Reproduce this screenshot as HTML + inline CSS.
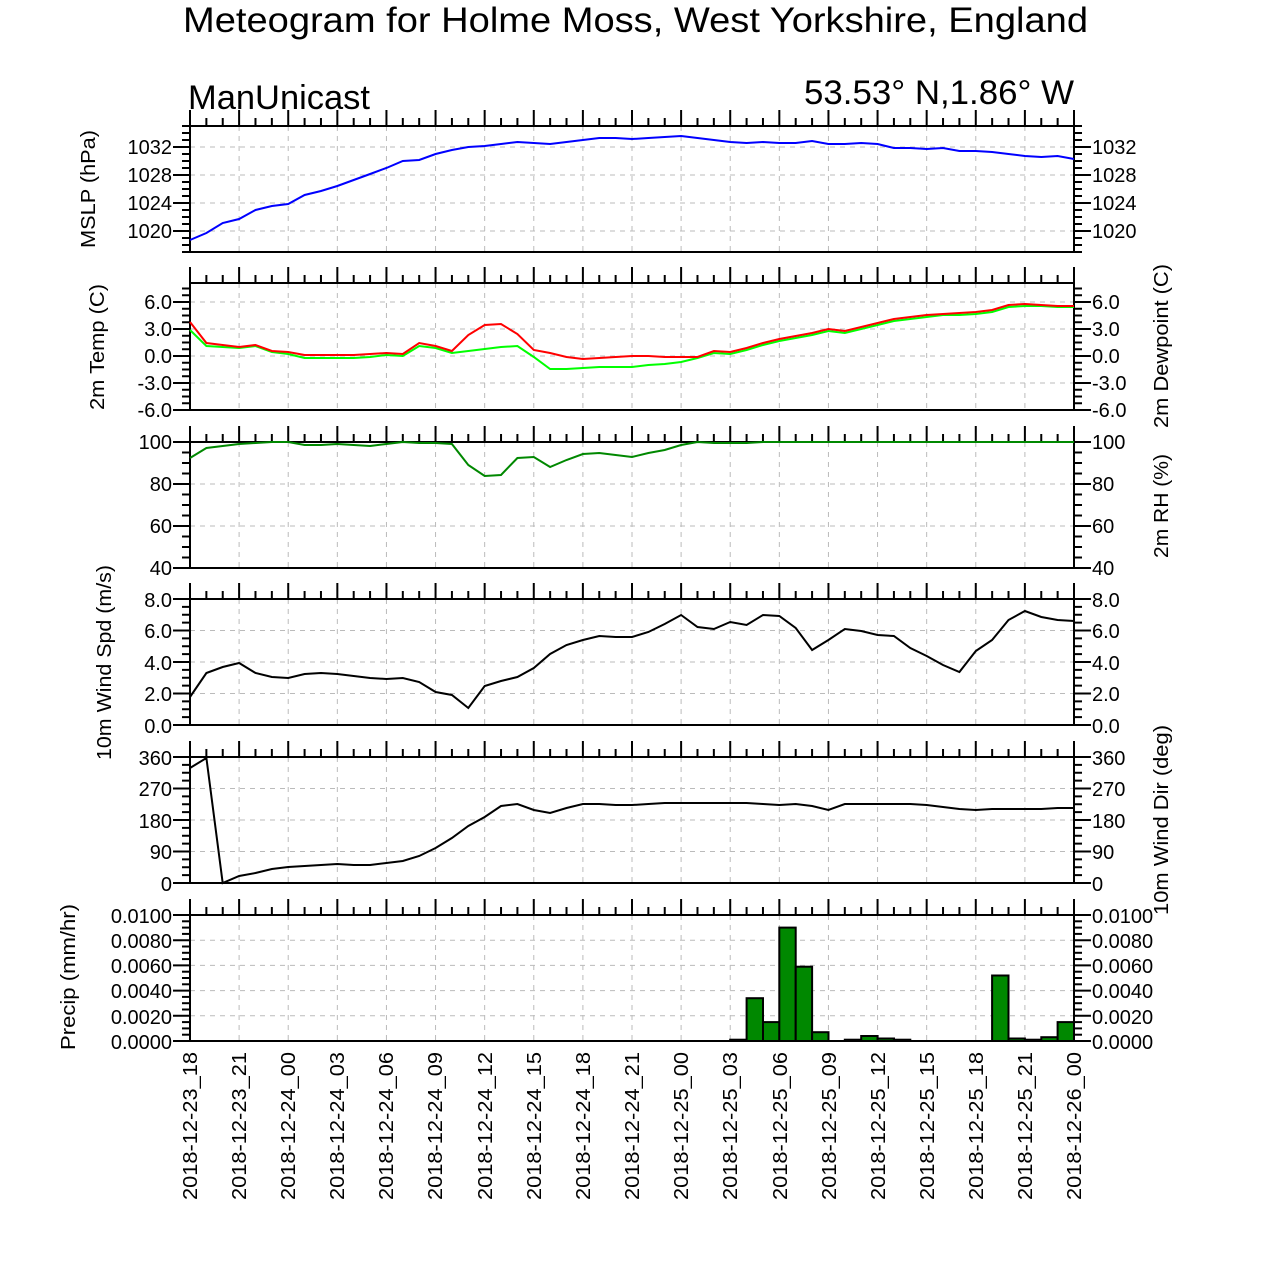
<!DOCTYPE html>
<html><head><meta charset="utf-8"><style>
html,body{margin:0;padding:0;background:#fff}
svg text{font-family:"Liberation Sans",Arial,sans-serif;fill:#000}
</style></head><body>
<svg id="s" width="1261" height="1263" viewBox="0 0 1261 1263" xmlns="http://www.w3.org/2000/svg">
<g id="g"></g>
<text x="183" y="32" font-size="35" textLength="905" lengthAdjust="spacingAndGlyphs">Meteogram for Holme Moss, West Yorkshire, England</text>
<text x="188" y="109" font-size="34" textLength="182" lengthAdjust="spacingAndGlyphs">ManUnicast</text>
<text x="804" y="104" font-size="34" textLength="270" lengthAdjust="spacingAndGlyphs">53.53° N,1.86° W</text>
<g font-size="20">
<text x="172" y="154" text-anchor="end">1032</text><text x="172" y="182" text-anchor="end">1028</text><text x="172" y="210" text-anchor="end">1024</text><text x="172" y="238" text-anchor="end">1020</text>
<text x="1092" y="154">1032</text><text x="1092" y="182">1028</text><text x="1092" y="210">1024</text><text x="1092" y="238">1020</text>
<text x="172" y="309" text-anchor="end">6.0</text><text x="172" y="336" text-anchor="end">3.0</text><text x="172" y="363" text-anchor="end">0.0</text><text x="172" y="390" text-anchor="end">-3.0</text><text x="172" y="417" text-anchor="end">-6.0</text>
<text x="1092" y="309">6.0</text><text x="1092" y="336">3.0</text><text x="1092" y="363">0.0</text><text x="1092" y="390">-3.0</text><text x="1092" y="417">-6.0</text>
<text x="172" y="449" text-anchor="end">100</text><text x="172" y="491" text-anchor="end">80</text><text x="172" y="533" text-anchor="end">60</text><text x="172" y="575" text-anchor="end">40</text>
<text x="1092" y="449">100</text><text x="1092" y="491">80</text><text x="1092" y="533">60</text><text x="1092" y="575">40</text>
<text x="172" y="607" text-anchor="end">8.0</text><text x="172" y="638" text-anchor="end">6.0</text><text x="172" y="670" text-anchor="end">4.0</text><text x="172" y="701" text-anchor="end">2.0</text><text x="172" y="733" text-anchor="end">0.0</text>
<text x="1092" y="607">8.0</text><text x="1092" y="638">6.0</text><text x="1092" y="670">4.0</text><text x="1092" y="701">2.0</text><text x="1092" y="733">0.0</text>
<text x="172" y="765" text-anchor="end">360</text><text x="172" y="796" text-anchor="end">270</text><text x="172" y="828" text-anchor="end">180</text><text x="172" y="859" text-anchor="end">90</text><text x="172" y="891" text-anchor="end">0</text>
<text x="1092" y="765">360</text><text x="1092" y="796">270</text><text x="1092" y="828">180</text><text x="1092" y="859">90</text><text x="1092" y="891">0</text>
<text x="172" y="923" text-anchor="end">0.0100</text><text x="172" y="948" text-anchor="end">0.0080</text><text x="172" y="973" text-anchor="end">0.0060</text><text x="172" y="998" text-anchor="end">0.0040</text><text x="172" y="1024" text-anchor="end">0.0020</text><text x="172" y="1049" text-anchor="end">0.0000</text>
<text x="1092" y="923">0.0100</text><text x="1092" y="948">0.0080</text><text x="1092" y="973">0.0060</text><text x="1092" y="998">0.0040</text><text x="1092" y="1024">0.0020</text><text x="1092" y="1049">0.0000</text>
<text transform="translate(95,248) rotate(-90)" textLength="118" lengthAdjust="spacingAndGlyphs">MSLP (hPa)</text>
<text transform="translate(104,410) rotate(-90)" textLength="126" lengthAdjust="spacingAndGlyphs">2m Temp (C)</text>
<text transform="translate(111,760) rotate(-90)" textLength="195" lengthAdjust="spacingAndGlyphs">10m Wind Spd (m/s)</text>
<text transform="translate(75,1050) rotate(-90)" textLength="146" lengthAdjust="spacingAndGlyphs">Precip (mm/hr)</text>
<text transform="translate(1168,428) rotate(-90)" textLength="164" lengthAdjust="spacingAndGlyphs">2m Dewpoint (C)</text>
<text transform="translate(1168,558) rotate(-90)" textLength="104" lengthAdjust="spacingAndGlyphs">2m RH (%)</text>
<text transform="translate(1168,915) rotate(-90)" textLength="190" lengthAdjust="spacingAndGlyphs">10m Wind Dir (deg)</text>
</g>
<g font-size="20" text-anchor="end">
<text transform="translate(197,1052) rotate(-90)" textLength="148" lengthAdjust="spacingAndGlyphs">2018-12-23_18</text>
<text transform="translate(246,1052) rotate(-90)" textLength="148" lengthAdjust="spacingAndGlyphs">2018-12-23_21</text>
<text transform="translate(295,1052) rotate(-90)" textLength="148" lengthAdjust="spacingAndGlyphs">2018-12-24_00</text>
<text transform="translate(344,1052) rotate(-90)" textLength="148" lengthAdjust="spacingAndGlyphs">2018-12-24_03</text>
<text transform="translate(393,1052) rotate(-90)" textLength="148" lengthAdjust="spacingAndGlyphs">2018-12-24_06</text>
<text transform="translate(442,1052) rotate(-90)" textLength="148" lengthAdjust="spacingAndGlyphs">2018-12-24_09</text>
<text transform="translate(492,1052) rotate(-90)" textLength="148" lengthAdjust="spacingAndGlyphs">2018-12-24_12</text>
<text transform="translate(541,1052) rotate(-90)" textLength="148" lengthAdjust="spacingAndGlyphs">2018-12-24_15</text>
<text transform="translate(590,1052) rotate(-90)" textLength="148" lengthAdjust="spacingAndGlyphs">2018-12-24_18</text>
<text transform="translate(639,1052) rotate(-90)" textLength="148" lengthAdjust="spacingAndGlyphs">2018-12-24_21</text>
<text transform="translate(688,1052) rotate(-90)" textLength="148" lengthAdjust="spacingAndGlyphs">2018-12-25_00</text>
<text transform="translate(737,1052) rotate(-90)" textLength="148" lengthAdjust="spacingAndGlyphs">2018-12-25_03</text>
<text transform="translate(787,1052) rotate(-90)" textLength="148" lengthAdjust="spacingAndGlyphs">2018-12-25_06</text>
<text transform="translate(836,1052) rotate(-90)" textLength="148" lengthAdjust="spacingAndGlyphs">2018-12-25_09</text>
<text transform="translate(885,1052) rotate(-90)" textLength="148" lengthAdjust="spacingAndGlyphs">2018-12-25_12</text>
<text transform="translate(934,1052) rotate(-90)" textLength="148" lengthAdjust="spacingAndGlyphs">2018-12-25_15</text>
<text transform="translate(983,1052) rotate(-90)" textLength="148" lengthAdjust="spacingAndGlyphs">2018-12-25_18</text>
<text transform="translate(1032,1052) rotate(-90)" textLength="148" lengthAdjust="spacingAndGlyphs">2018-12-25_21</text>
<text transform="translate(1081,1052) rotate(-90)" textLength="148" lengthAdjust="spacingAndGlyphs">2018-12-26_00</text>
</g>
</svg>
<script>
(function(){
var g=document.getElementById('g'),out='';
var X0=190,X1=1074,dx=(X1-X0)/54;
function L(x1,y1,x2,y2,st){out+='<line x1="'+x1+'" y1="'+y1+'" x2="'+x2+'" y2="'+y2+'" '+st+'/>';}
var P=[[126,252,1017,1035,1020,1032,4,1],[283,410,-6,8.111,-6,6,3,0.75],[442,568,40,100,40,100,20,5],[599,725,0,8,0,8,2,0.5],[757,883,0,360,0,360,90,22.5],[915,1041,0,0.01,0,0.01,0.002,0.0005]];
var grid='stroke="#bbb" stroke-width="1" stroke-dasharray="5,5"',tk='stroke="#000" stroke-width="2"';
P.forEach(function(p){
 var t=p[0],b=p[1];function Y(v){return b-(v-p[2])/(p[3]-p[2])*(b-t);}
 for(var h=3;h<54;h+=3)L(X0+h*dx,t,X0+h*dx,b,grid);
 for(var v=p[4];v<=p[5]+1e-9;v+=p[6]){var y=Y(v);if(y>t+1&&y<b-1)L(X0,y,X1,y,grid);}
 for(var h=0;h<=54;h++){var len=h%3==0?16:8;L(X0+h*dx,t,X0+h*dx,t-len,tk);}
 for(var v=p[2];v<=p[3]+1e-9;v+=p[7]){var y=Y(v);var mj=Math.abs((v-p[4])/p[6]-Math.round((v-p[4])/p[6]))<1e-6;var len=mj?17:8;L(X0,y,X0-len,y,tk);L(X1,y,X1+len,y,tk);}
 out+='<rect x="'+X0+'" y="'+t+'" width="'+(X1-X0)+'" height="'+(b-t)+'" fill="none" stroke="#000" stroke-width="2"/>';
});
function PL(arr,c){var s='';arr.forEach(function(y,i){s+=(X0+i*dx).toFixed(1)+','+y+' ';});out+='<polyline points="'+s+'" fill="none" stroke="'+c+'" stroke-width="2"/>';}
PL([240,233,223,219,210,206,204,195,191,186,180,174,168,161,160,154,150,147,146,144,142,143,144,142,140,138,138,139,138,137,136,138,140,142,143,142,143,143,141,144,144,143,144,148,148,149,148,151,151,152,154,156,157,156,159],'#00f');
PL([330,346,347,348,346,352,354,358,358,358,358,357,355,356,346,348,353,351,349,347,346,357,369,369,368,367,367,367,365,364,362,358,353,354,350,345,341,338,335,331,333,329,325,321,319,317,315,315,314,312,307,306,306,307,307],'#0f0');
PL([322,343,345,347,345,351,352,355,355,355,355,354,353,354,343,346,351,335,325,324,334,350,353,357,359,358,357,356,356,357,357,357,351,352,348,343,339,336,333,329,331,327,323,319,317,315,314,313,312,310,305,304,305,306,306],'#f00');
var rh=[458,448,446,444,443,442,442,445,445,444,445,446,444,442,443,443,444,465,476,475,458,457,467,460,454,453,455,457,453,450,445,442,443,443,443];while(rh.length<55)rh.push(442);
PL(rh,'#080');
PL([697,673,667,663,673,677,678,674,673,674,676,678,679,678,682,692,695,708,686,681,677,668,654,645,640,636,637,637,632,624,615,627,629,622,625,615,616,628,650,640,629,631,635,636,648,656,665,672,651,640,620,611,617,620,621],'#000');
PL([768,758,883,876,873,869,867,866,865,864,865,865,863,861,856,848,838,826,817,806,804,810,813,808,804,804,805,805,804,803,803,803,803,803,803,804,805,804,806,810,804,804,804,804,804,805,807,809,810,809,809,809,809,808,808],'#000');
var pr={33:0.0001,34:0.0034,35:0.0015,36:0.009,37:0.0059,38:0.0007,40:0.0001,41:0.0004,42:0.0002,43:0.0001,49:0.0052,50:0.0002,51:0.0001,52:0.0003,53:0.0015};
for(var k in pr){var h=+k,v=pr[k],y=1041-v*12600;out+='<rect x="'+(X0+h*dx).toFixed(1)+'" y="'+y.toFixed(1)+'" width="'+dx.toFixed(1)+'" height="'+(1041-y).toFixed(1)+'" fill="#080" stroke="#000" stroke-width="2"/>';}
g.innerHTML=out;
})();
</script>
</body></html>
